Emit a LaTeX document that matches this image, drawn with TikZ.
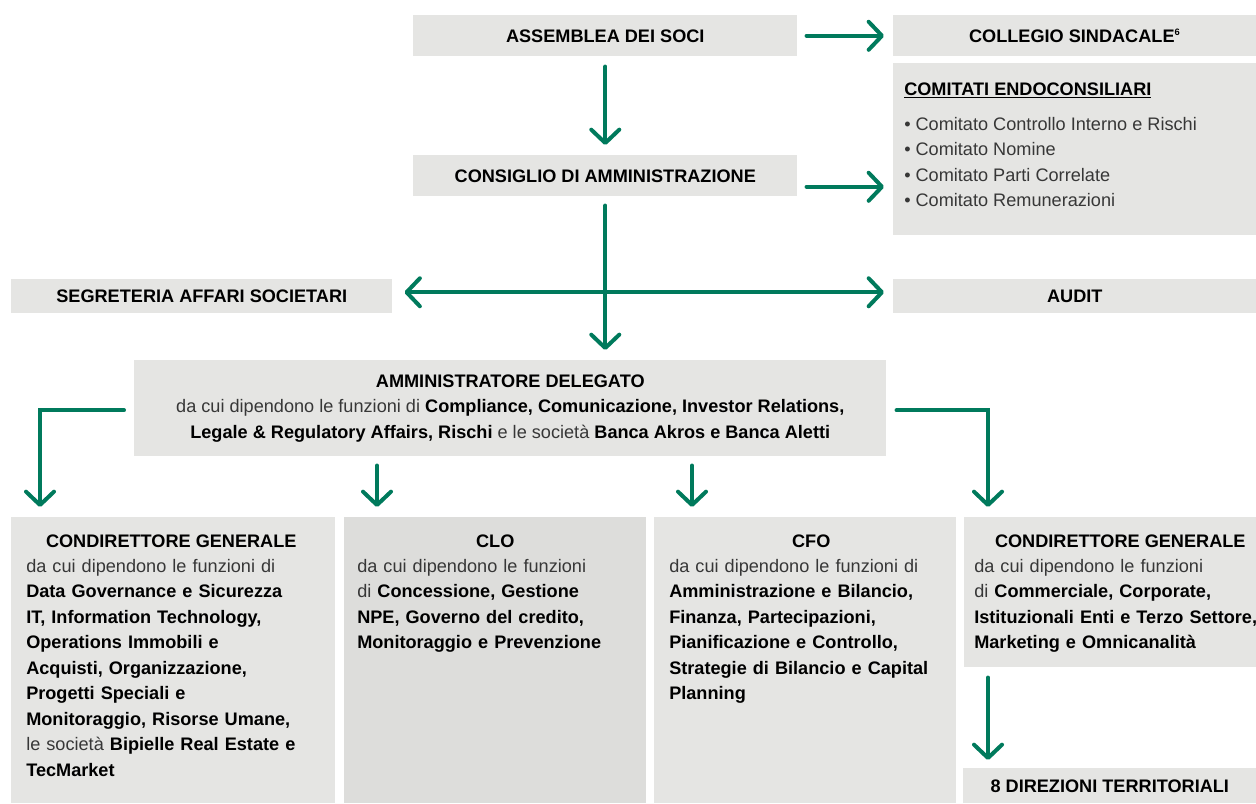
\documentclass[tikz,border=0pt]{standalone}
\usepackage{fontspec}
\setmainfont{Liberation Sans}
\usetikzlibrary{arrows.meta,calc,positioning}
\definecolor{verde}{RGB}{0,122,92}
\definecolor{grigio}{RGB}{229,229,227}
\definecolor{grigioscuro}{RGB}{221,221,219}
\definecolor{testo}{RGB}{55,55,55}
\newcommand{\pxu}{0.75pt}
\newcommand{\bb}[1]{\textbf{\color{black}#1}}
\tikzset{
  punta/.tip={Straight Barb[length=10pt,width=21pt,round]},
  box/.style 2 args={fill=grigio,inner sep=0,anchor=north west,minimum width=#1*\pxu,minimum height=#2*\pxu,font=\fontsize{13.6}{19.1}\selectfont\bfseries,align=center},
  titolo/.style={inner sep=0,font=\fontsize{13.6}{19.1}\selectfont\bfseries},
  corpo/.style={inner sep=0,anchor=north west,align=left,text=testo,font=\fontsize{13.6}{19.1}\selectfont},
  arr/.style={draw=verde,line width=3pt,line cap=round,-punta},
  arrs/.style={draw=verde,line width=3pt,line cap=round,punta-punta}
}
\begin{document}
\begin{tikzpicture}[x=0.75pt,y=-0.75pt]
\useasboundingbox (0,0) rectangle (1256,803);
\node[box={384}{41}] (asm) at (413,15) {ASSEMBLEA DEI SOCI};
\node[box={363}{41}] (col) at (893,15) {COLLEGIO SINDACALE\textsuperscript{\scriptsize 6}};
\node[box={363}{172}] (com) at (893,63) {};
\node[titolo,anchor=base west] (comt) at (904,95) {\underline{COMITATI ENDOCONSILIARI}};
\node[corpo] (coml) at (904,117) {\textbullet\ Comitato Controllo Interno e Rischi\\ \textbullet\ Comitato Nomine\\ \textbullet\ Comitato Parti Correlate\\ \textbullet\ Comitato Remunerazioni};
\node[box={384}{41}] (cda) at (413,155) {CONSIGLIO DI AMMINISTRAZIONE};
\node[box={381}{34}] (seg) at (11,279) {SEGRETERIA AFFARI SOCIETARI};
\node[box={363}{34}] (aud) at (893,279) {AUDIT};
\node[box={752}{96}] (ad) at (134,360) {AMMINISTRATORE DELEGATO\\ {\mdseries\color{testo}da cui dipendono le funzioni di} Compliance, Comunicazione, Investor Relations,\\ Legale \& Regulatory Affairs, Rischi {\mdseries\color{testo}e le società} Banca Akros e Banca Aletti};
\node[box={324}{286}] (cg1) at (11,517) {};
\node[box={302}{286},fill=grigioscuro] (clo) at (344,517) {};
\node[box={302}{286}] (cfo) at (654,517) {};
\node[box={292}{150}] (cg2) at (964,517) {};
\node[box={293}{35}] (dir) at (963,768) {8 DIREZIONI TERRITORIALI};
\node[titolo] (cg1t) at ($(cg1.north)+(-2,24)$) {CONDIRETTORE GENERALE};
\node[titolo] (clot) at ($(clo.north)+(0,24)$) {CLO};
\node[titolo] (cfot) at ($(cfo.north)+(6,24)$) {CFO};
\node[titolo] (cg2t) at ($(cg2.north)+(10,24)$) {CONDIRETTORE GENERALE};
\node[corpo,text width=300*\pxu] (cg1b) at ($(cg1.north west)+(15,42)$) {da cui dipendono le funzioni di\\ \bb{Data Governance e Sicurezza}\\ \bb{IT, Information Technology,}\\ \bb{Operations Immobili e}\\ \bb{Acquisti, Organizzazione,}\\ \bb{Progetti Speciali e}\\ \bb{Monitoraggio, Risorse Umane,}\\ le società \bb{Bipielle Real Estate e}\\ \bb{TecMarket}};
\node[corpo,text width=280*\pxu] (clob) at ($(clo.north west)+(13,42)$) {da cui dipendono le funzioni\\ di \bb{Concessione, Gestione}\\ \bb{NPE, Governo del credito,}\\ \bb{Monitoraggio e Prevenzione}};
\node[corpo,text width=285*\pxu] (cfob) at ($(cfo.north west)+(15,42)$) {da cui dipendono le funzioni di\\ \bb{Amministrazione e Bilancio,}\\ \bb{Finanza, Partecipazioni,}\\ \bb{Pianificazione e Controllo,}\\ \bb{Strategie di Bilancio e Capital}\\ \bb{Planning}};
\node[corpo,text width=285*\pxu] (cg2b) at ($(cg2.north west)+(10,42)$) {da cui dipendono le funzioni\\ di \bb{Commerciale, Corporate,}\\ \bb{Istituzionali Enti e Terzo Settore,}\\ \bb{Marketing e Omnicanalità}};
\draw[arr] ($(asm.east)+(9,0)$) -- ($(col.west)+(-9,0)$);
\draw[arr] ($(asm.south)+(0,10)$) -- ($(cda.north)+(0,-10)$);
\draw[arr] ($(cda.east)+(9,11)$) -- ($(com.west |- cda.east)+(-9,11)$);
\draw[arr] ($(cda.south)+(0,9)$) -- ($(cda.south |- ad.north)+(0,-10)$);
\draw[arrs] ($(seg.east)+(12,-4)$) -- ($(aud.west)+(-9,-4)$);
\draw[arr] ($(ad.west)+(-10,2)$) -| ($(cg1.north west)+(29,-10)$);
\draw[arr] ($(ad.east)+(10,2)$) -| ($(cg2.north west)+(24,-10)$);
\draw[arr] ($(clo.north west |- ad.south)+(33,9)$) -- ($(clo.north west)+(33,-10)$);
\draw[arr] ($(cfo.north west |- ad.south)+(38,9)$) -- ($(cfo.north west)+(38,-10)$);
\draw[arr] ($(cg2.south west)+(24,10)$) -- ($(dir.north west)+(25,-8)$);
\end{tikzpicture}
\end{document}
